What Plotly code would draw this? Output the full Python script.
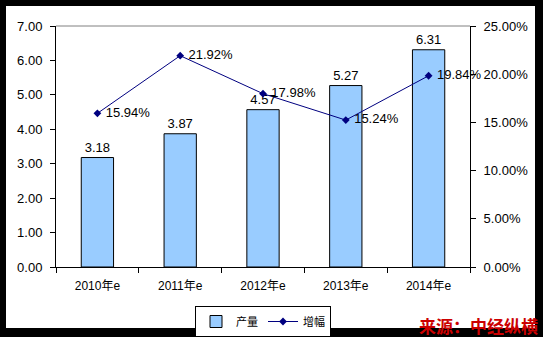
import plotly.graph_objects as go

# Output and growth rate, 2010-2014 (estimates)
years = ["2010年e", "2011年e", "2012年e", "2013年e", "2014年e"]
output = [3.18, 3.87, 4.57, 5.27, 6.31]
growth = [0.1594, 0.2192, 0.1798, 0.1524, 0.1984]
left_ticks = [0, 1, 2, 3, 4, 5, 6, 7]
right_ticks = [0, 0.05, 0.10, 0.15, 0.20, 0.25]

W, H = 543, 337
L, R, T, B = 56, 73, 26, 70
pw, ph = W - L - R, H - T - B


def px_x(x):
    return (x - L) / pw


def px_y(y):
    return (H - B - y) / ph


base_font = dict(family="Liberation Sans, Arial, Noto Sans CJK SC", size=13, color="black")

fig = go.Figure()
fig.add_trace(go.Bar(
    x=years, y=output, name="产量",
    marker=dict(color="#99CCFF", line=dict(color="black", width=1)),
    width=0.39,
    text=[f"{v:.2f}" for v in output], textposition="outside",
    textfont=dict(size=13, color="black"), cliponaxis=False,
))
fig.add_trace(go.Scatter(
    x=years, y=growth, name="增幅", yaxis="y2",
    mode="lines+markers+text",
    line=dict(color="#000080", width=1),
    marker=dict(symbol="diamond", size=6, color="#000080"),
    text=[f" {v*100:.2f}%" for v in growth], textposition="middle right",
    textfont=dict(size=13, color="black"), cliponaxis=False,
))

# white canvas inside the black frame
fig.add_shape(type="rect", xref="paper", yref="paper", layer="below",
              x0=px_x(6), x1=px_x(535), y0=px_y(328), y1=px_y(6),
              fillcolor="white", line=dict(width=0))
# top edge of the plot area
fig.add_shape(type="line", xref="paper", yref="paper",
              x0=0, x1=1, y0=1, y1=1, line=dict(color="#808080", width=1))

fig.add_annotation(xref="paper", yref="paper", x=px_x(539), y=px_y(325),
                   xanchor="right", yanchor="middle", showarrow=False,
                   text="<b>来源：中经纵横</b>", borderpad=0,
                   font=dict(family="Noto Sans CJK SC", size=17, color="#CC0000"))

fig.update_layout(
    width=W, height=H,
    margin=dict(l=L, r=R, t=T, b=B, autoexpand=False),
    paper_bgcolor="black", plot_bgcolor="white",
    font=base_font,
    showlegend=True,
    legend=dict(orientation="h", x=0.5, xanchor="center", y=px_y(306), yanchor="top",
                bordercolor="black", borderwidth=1, bgcolor="white",
                font=dict(family="Noto Sans CJK SC", size=11, color="black"),
                itemwidth=30, tracegroupgap=0),
    bargap=0.61,
    xaxis=dict(showline=True, linecolor="black", linewidth=1,
               ticks="outside", tickson="boundaries", ticklen=5, tickcolor="black",
               ticklabelstandoff=8,
               showgrid=False, tickfont=dict(family="Liberation Sans, Noto Sans CJK SC", size=12)),
    yaxis=dict(range=[0, 7], tickvals=left_ticks, tickformat=".2f",
               showline=True, linecolor="black", linewidth=1,
               ticks="outside", ticklen=5, tickcolor="black", ticklabelstandoff=5,
               showgrid=False, zeroline=False),
    yaxis2=dict(range=[0, 0.25], tickvals=right_ticks, tickformat=".2%",
                overlaying="y", side="right",
                showline=True, linecolor="black", linewidth=1,
                ticks="outside", ticklen=5, tickcolor="black", ticklabelstandoff=5,
                showgrid=False, zeroline=False),
)

fig.write_html("out.html")
